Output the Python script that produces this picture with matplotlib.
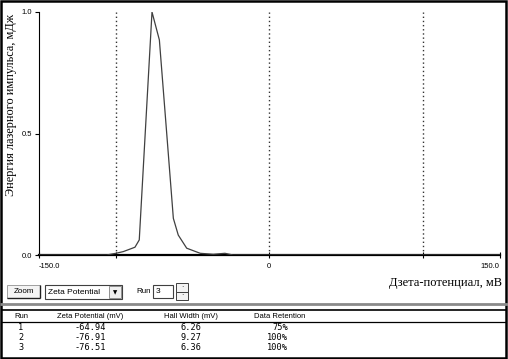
import matplotlib
matplotlib.use("Agg")
import matplotlib.pyplot as plt
from matplotlib.patches import Rectangle

# ---- data ----
zeta_mv = [-150, -106, -99.9, -95.1, -87.5, -84.7, -76.4, -71.6, -66.9, -62.5,
           -59.3, -53.8, -45.0, -36.5, -28.9, -23.6, 150]
intensity = [0, 0, 0.007, 0.014, 0.032, 0.062, 1.0, 0.885, 0.507, 0.151,
             0.082, 0.028, 0.007, 0.003, 0.007, 0, 0]
grid_lines = [-100, 0, 100]
x_tick_vals = [-150, 0, 150]
x_tick_labels = ["-150.0", "0", "150.0"]
y_tick_vals = [0.0, 0.5, 1.0]
y_tick_labels = ["0.0", "0.5", "1.0"]

runs = ["1", "2", "3"]
zeta_values = ["-64.94", "-76.91", "-76.51"]
half_widths = ["6.26", "9.27", "6.36"]
retention = ["75%", "100%", "100%"]
headers = ["Run", "Zeta Potential (mV)", "Hall Width (mV)", "Data Retention"]

W, H = 508, 359
fig = plt.figure(figsize=(W / 100, H / 100), dpi=100)
fig.patch.set_facecolor("white")

# ---- main plot ----
L, R, T, B = 39, 499.6, 12, 255
ax = fig.add_axes([L / W, (H - B) / H, (R - L) / W, (B - T) / H])
ax.set_xlim(-150, 150)
ax.set_ylim(0, 1.0)
ax.plot(zeta_mv, intensity, color="#404040", lw=0.9, zorder=3)
for g in grid_lines:
    ax.axvline(g, color="#333333", lw=1.0, ls=(0, (1, 2)), zorder=2)
for s in ["top", "right"]:
    ax.spines[s].set_visible(False)
ax.spines["left"].set_linewidth(0.8)
ax.spines["bottom"].set_linewidth(1.6)
ax.set_yticks(y_tick_vals)
ax.set_yticklabels(y_tick_labels, fontsize=5.5, family="Liberation Sans")
ax.set_xticks(x_tick_vals)
ax.set_xticklabels(x_tick_labels, fontsize=5.5, family="Liberation Sans")
ax.set_xticks(grid_lines[:1] + grid_lines[2:], minor=True)
ax.tick_params(axis="y", length=3, width=0.8, pad=2)
ax.tick_params(axis="x", which="both", length=4, width=0.8, direction="inout", pad=4)
lbls = ax.get_xticklabels()
lbls[0].set_ha("left")
lbls[-1].set_ha("right")

# ---- UI overlay ----
ui = fig.add_axes([0, 0, 1, 1], zorder=-1)
ui.set_xlim(0, W)
ui.set_ylim(H, 0)
ui.axis("off")

def line(x0, y0, x1, y1, c="black", lw=1.0):
    ui.plot([x0, x1], [y0, y1], color=c, lw=lw, solid_capstyle="butt")

def txt(x, y, s, size=5.5, ha="left", fam="Liberation Sans", **kw):
    ui.text(x, y, s, fontsize=size, ha=ha, va="center", family=fam, **kw)

# axis labels
txt(11.5, 105, "Энергия лазерного импульса, мДж", size=8.8, ha="center",
    fam="Liberation Serif", rotation=90, rotation_mode="anchor")
txt(502, 283, "Дзета-потенциал, мВ", size=9, ha="right", fam="Liberation Serif")

# Zoom button
ui.add_patch(Rectangle((7, 285), 33, 13, fc="#f4f4f4", ec="#a0a0a0", lw=0.7))
line(7, 298, 40, 298, "#202020", 1.0)
line(40, 285, 40, 298, "#202020", 1.0)
txt(23.5, 291.5, "Zoom", size=5.8, ha="center")

# dropdown
ui.add_patch(Rectangle((45, 285), 77, 14, fc="white", ec="#404040", lw=0.8))
ui.add_patch(Rectangle((109, 286), 12, 12, fc="#f0f0f0", ec="#808080", lw=0.6))
txt(48, 292, "Zeta Potential", size=6)
txt(115, 292.5, "▼", size=4, ha="center", fam="DejaVu Sans")

# run box
txt(136, 291.5, "Run", size=5.8)
ui.add_patch(Rectangle((153, 285), 20, 13, fc="white", ec="#404040", lw=0.8))
txt(156, 291.5, "3", size=6)
ui.add_patch(Rectangle((176, 283), 12, 8.5, fc="#f4f4f4", ec="#404040", lw=0.7))
ui.add_patch(Rectangle((176, 291.5), 12, 8.5, fc="#f4f4f4", ec="#404040", lw=0.7))
txt(182, 287.5, "·", size=5, ha="center")
txt(182, 295.5, "·", size=5, ha="center")

# separator and table
line(0, 304, W, 304, "#8a8a8a", 2.0)
line(1, 309.5, 506, 309.5, "black", 1.2)
line(1, 321.5, 506, 321.5, "black", 0.9)
col_x = [21, 90, 191, 280]
for cx, h in zip(col_x, headers):
    txt(cx, 316.5, h, ha="center")
row_y = [327, 337.5, 348]
for i, ry in enumerate(row_y):
    txt(col_x[0], ry, runs[i], size=6.2, ha="center", fam="DejaVu Sans Mono")
    txt(col_x[1], ry, zeta_values[i], size=6.2, ha="center", fam="DejaVu Sans Mono")
    txt(col_x[2], ry, half_widths[i], size=6.2, ha="center", fam="DejaVu Sans Mono")
    txt(288, ry, retention[i], size=6.2, ha="right", fam="DejaVu Sans Mono")

# outer frame
ui.add_patch(Rectangle((1, 1), W - 3, H - 2.5, fc="none", ec="black", lw=1.8))

fig.savefig("out.png", dpi=100, facecolor="white")
